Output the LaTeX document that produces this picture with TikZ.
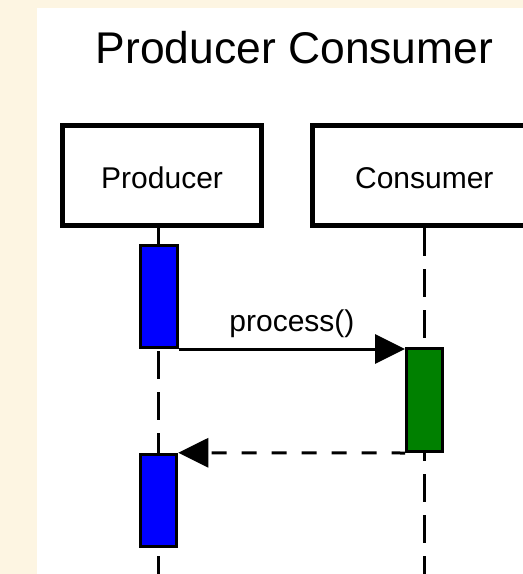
\documentclass[tikz,border=0pt]{standalone}
\usepackage{fontspec}
\setmainfont{Liberation Sans}
\usetikzlibrary{arrows.meta}
\definecolor{pagebg}{RGB}{253,245,226}
\definecolor{actblue}{RGB}{0,0,255}
\definecolor{actgreen}{RGB}{0,128,0}
\pgfdeclarelayer{sheet}
\pgfdeclarelayer{lines}
\pgfsetlayers{sheet,lines,main}
\begin{document}
\begin{tikzpicture}[x=1pt,y=-1pt,
  headbox/.style={draw=black, line width=5pt, fill=white, minimum height=100pt,
    inner sep=0pt, text height=24.5pt, text depth=0pt, font=\fontsize{30}{36}\selectfont},
  actbar/.style={draw=black, line width=3pt, inner sep=0pt, minimum width=36.5pt},
  lifeline/.style={line width=3.3pt, dash pattern=on 28pt off 13pt},
  callarrow/.style={line width=3pt, -{Triangle[length=30pt,width=29pt]}},
  retarrow/.style={line width=3pt, dash pattern=on 15pt off 15pt, dash phase=1.7pt,
    -{Triangle[length=30pt,width=29pt]}},
  msglabel/.style={font=\fontsize{30}{36}\selectfont}
]
\useasboundingbox (0,0) rectangle (523,574);
% page background with the white drawing sheet
\begin{pgfonlayer}{sheet}
\fill[pagebg] (0,0) rectangle (523,574);
\fill[white] (37,8) rectangle (523,574);
\end{pgfonlayer}

% title
\node[anchor=base, font=\fontsize{44.4}{52}\selectfont, inner sep=0pt] (title) at (294.5,63) {Producer Consumer};

% lifeline ends
\coordinate (pend) at (158.5,574);
\coordinate (cend) at (424.3,574);

% participant heads
\node[headbox, minimum width=199.2pt] (prod) at (162.1,175.8) {Producer};
\node[headbox, minimum width=223.6pt] (cons) at (424.3,175.8) {Consumer};

% lifelines, kept behind heads and activations
\begin{pgfonlayer}{lines}
\draw[lifeline] (prod.south -| pend) -- (pend);
\draw[lifeline] (cons.south -| cend) -- (cend);
\end{pgfonlayer}

% activation bars
\node[actbar, fill=actblue, minimum height=102pt] (pact1) at (159.2,296.5) {};
\node[actbar, fill=actgreen, minimum height=103pt, minimum width=36pt] (cact) at (424.5,400) {};
\node[actbar, fill=actblue, minimum height=92pt, minimum width=36pt] (pact2) at (158.8,500.2) {};

% messages
\draw[callarrow] (pact1.south east) -- node[msglabel, midway, anchor=base, yshift=18pt] (plabel) {process()} (cact.west |- pact1.south east);
\draw[retarrow] (cact.south west) -- (pact2.north east);
\end{tikzpicture}
\end{document}
